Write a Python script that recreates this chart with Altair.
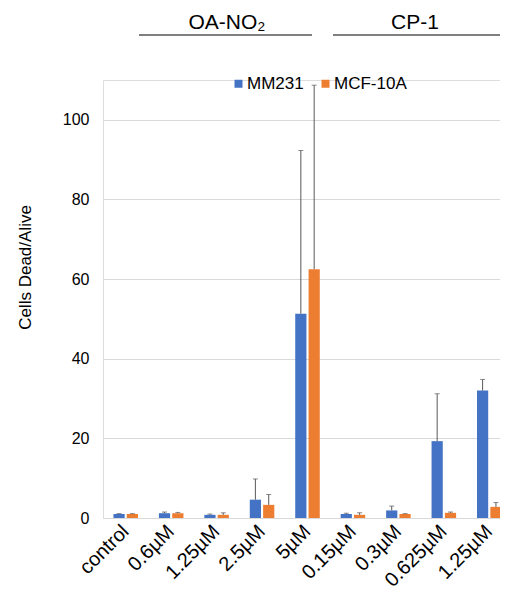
import altair as alt
import pandas as pd

categories = ["control", "0.6µM", "1.25µM", "2.5µM", "5µM", "0.15µM", "0.3µM", "0.625µM", "1.25µM"]
series = ["MM231", "MCF-10A"]
mm231 = [1.0, 1.2, 0.8, 4.6, 51.3, 1.0, 1.9, 19.3, 32.0]
mm231_err = [1.1, 1.5, 1.0, 9.8, 92.3, 1.2, 3.0, 31.2, 34.8]
mcf10a = [1.0, 1.2, 0.8, 3.3, 62.5, 0.8, 1.0, 1.3, 2.8]
mcf10a_err = [1.1, 1.4, 1.3, 5.9, 108.7, 1.3, 1.1, 1.5, 3.9]
groups = ["OA-NO₂", "CP-1"]

rows = []
for i, c in enumerate(categories):
    rows.append({"idx": i, "series": series[0], "value": mm231[i], "upper": mm231_err[i]})
    rows.append({"idx": i, "series": series[1], "value": mcf10a[i], "upper": mcf10a_err[i]})
df = pd.DataFrame(rows)

FONT = "Liberation Sans"
label_expr = "[" + ",".join("'" + c + "'" for c in categories) + "][datum.value]"

x_enc = alt.X("idx:O", title=None,
              scale=alt.Scale(range=[0, 409], paddingInner=0.46, paddingOuter=0.23),
              axis=alt.Axis(labelExpr=label_expr, labelAngle=-45, labelAlign="right",
                            labelBaseline="middle", labelFontSize=20, labelFont=FONT,
                            labelColor="#000000", ticks=False, domain=False, labelPadding=10))
y_enc = alt.Y("value:Q", title="Cells Dead/Alive",
              scale=alt.Scale(domain=[0, 110], nice=False),
              axis=alt.Axis(values=[0, 20, 40, 60, 80, 100], labelFontSize=16, labelFont=FONT,
                            labelColor="#000000", ticks=False, domain=False, labelPadding=14,
                            gridColor="#d9d9d9", titleFontSize=17, titleFont=FONT,
                            titleFontWeight="normal", titleColor="#000000",
                            titleX=-78, titleY=187, titleAngle=-90, titleBaseline="middle",
                            titleAlign="center"))
xoff = alt.XOffset("series:N", sort=series,
                   scale=alt.Scale(paddingInner=0.16, paddingOuter=0))
color = alt.Color("series:N", sort=series,
                  scale=alt.Scale(domain=series, range=["#4472C4", "#ED7D31"]),
                  legend=alt.Legend(title=None, orient="none", legendX=127, legendY=-5,
                                    direction="horizontal", symbolType="square",
                                    symbolSize=64, symbolStrokeWidth=0, labelFontSize=17,
                                    labelFont=FONT, labelColor="#000000", columnPadding=13,
                                    labelOffset=0, padding=0))

base = alt.Chart(df)
bars = base.mark_bar().encode(x=x_enc, xOffset=xoff, y=y_enc, color=color)
err = base.mark_rule(color="#595959", strokeWidth=1).encode(
    x=alt.X("idx:O"), xOffset=alt.XOffset("series:N", sort=series), y="value:Q", y2="upper:Q")
cap = base.mark_tick(color="#595959", thickness=1, size=5).encode(
    x=alt.X("idx:O"), xOffset=alt.XOffset("series:N", sort=series), y="upper:Q")

gdf = pd.DataFrame({"g": groups})
t1 = alt.Chart(gdf).transform_filter(alt.datum.g == groups[0]).mark_text(
    font=FONT, fontSize=21, color="#000000", align="center", baseline="alphabetic").encode(
    text="g:N", x=alt.value(124), y=alt.value(-51))
t2 = alt.Chart(gdf).transform_filter(alt.datum.g == groups[1]).mark_text(
    font=FONT, fontSize=21, color="#000000", align="center", baseline="alphabetic").encode(
    text="g:N", x=alt.value(312), y=alt.value(-51))
l1 = alt.Chart(gdf).transform_filter(alt.datum.g == groups[0]).mark_rule(
    color="#000000", strokeWidth=1).encode(x=alt.value(36), x2=alt.value(209), y=alt.value(-45))
l2 = alt.Chart(gdf).transform_filter(alt.datum.g == groups[1]).mark_rule(
    color="#000000", strokeWidth=1).encode(x=alt.value(230), x2=alt.value(410), y=alt.value(-45))

chart = alt.layer(bars, err, cap, t1, t2, l1, l2).properties(
    width=397, height=438, autosize="none",
    padding={"left": 95, "top": 72, "right": 0, "bottom": 72},
).configure_view(stroke=None).configure(background="#ffffff")

chart.save("out.html", embed_options={"renderer": "svg", "actions": False})
